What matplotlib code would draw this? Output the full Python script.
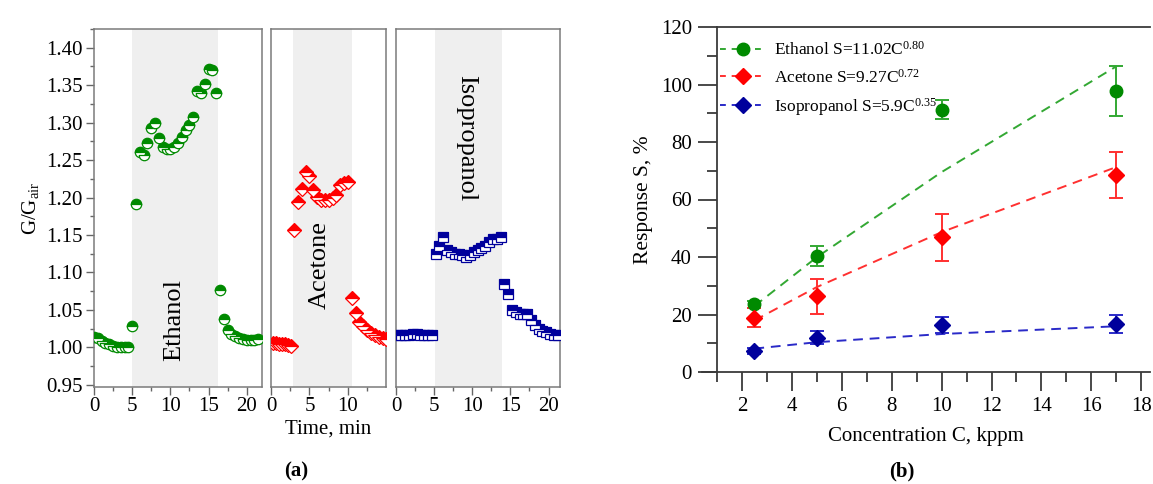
import numpy as np
import matplotlib
matplotlib.use("Agg")
import matplotlib.pyplot as plt
from matplotlib.lines import Line2D
from matplotlib.ticker import MultipleLocator

plt.rcParams['font.family'] = ['Liberation Serif', 'DejaVu Serif']
plt.rcParams['mathtext.fontset'] = 'custom'
plt.rcParams['mathtext.rm'] = 'Liberation Serif'
plt.rcParams['mathtext.it'] = 'Liberation Serif:italic'

# ---- (a) transient responses, G/Gair vs time ----
t_eth = [0.0, 0.5, 1.0, 1.5, 2.0, 2.5, 3.0, 3.5, 4.0, 4.5, 5.0, 5.5, 6.0, 6.5, 7.0,
         7.5, 8.0, 8.5, 9.0, 9.5, 10.0, 10.5, 11.0, 11.5, 12.0, 12.5, 13.0, 13.5,
         14.0, 14.5, 15.0, 15.5, 16.0, 16.5, 17.0, 17.5, 18.0, 18.5, 19.0, 19.5,
         20.0, 20.5, 21.0, 21.5]
g_eth = [1.014, 1.012, 1.009, 1.006, 1.004, 1.002, 1.001, 1.000, 1.000, 1.000,
         1.028, 1.191, 1.261, 1.257, 1.273, 1.293, 1.300, 1.280, 1.267, 1.265,
         1.265, 1.268, 1.273, 1.281, 1.290, 1.297, 1.307, 1.342, 1.339, 1.351,
         1.372, 1.370, 1.340, 1.077, 1.038, 1.023, 1.018, 1.015, 1.013, 1.011,
         1.010, 1.010, 1.010, 1.011]

t_ace = [0.2, 0.6, 1.0, 1.4, 1.8, 2.2, 2.6, 3.0, 3.5, 4.0, 4.5, 5.0, 5.5, 6.0,
         6.5, 7.0, 7.5, 8.0, 8.5, 9.0, 9.5, 10.0, 10.5, 11.0, 11.5, 12.0, 12.5,
         13.0, 13.5, 14.0, 14.5, 14.9]
g_ace = [1.006, 1.006, 1.005, 1.004, 1.004, 1.003, 1.002, 1.157, 1.194, 1.212,
         1.234, 1.229, 1.210, 1.201, 1.197, 1.197, 1.197, 1.199, 1.203, 1.217,
         1.219, 1.221, 1.066, 1.046, 1.034, 1.028, 1.023, 1.019, 1.017, 1.014,
         1.012, 1.011]

t_iso = [0.2, 0.7, 1.2, 1.7, 2.2, 2.7, 3.2, 3.7, 4.2, 4.7, 5.2, 5.7, 6.2, 6.7,
         7.2, 7.7, 8.2, 8.7, 9.2, 9.7, 10.2, 10.7, 11.2, 11.7, 12.2, 12.7, 13.2,
         13.7, 14.2, 14.7, 15.2, 15.7, 16.2, 16.7, 17.2, 17.7, 18.2, 18.7, 19.2,
         19.7, 20.2, 20.7, 21.2]
g_iso = [1.016, 1.016, 1.017, 1.017, 1.018, 1.018, 1.017, 1.017, 1.017, 1.017,
         1.125, 1.135, 1.147, 1.130, 1.127, 1.125, 1.125, 1.123, 1.121, 1.123,
         1.127, 1.130, 1.132, 1.135, 1.140, 1.145, 1.145, 1.147, 1.085, 1.071,
         1.050, 1.047, 1.045, 1.045, 1.044, 1.036, 1.030, 1.025, 1.022, 1.020,
         1.018, 1.017, 1.016]

# ---- (b) response vs concentration ----
conc = [2.5, 5, 10, 17]
s_eth = [23.5, 40.3, 91.3, 97.8]
e_eth = [1.2, 3.6, 3.3, 8.6]
s_ace = [18.9, 26.3, 46.8, 68.5]
e_ace = [3.2, 6.0, 8.2, 8.0]
s_iso = [7.4, 12.0, 16.4, 16.7]
e_iso = [1.0, 2.2, 2.9, 3.2]
fit_eth = (11.02, 0.80)
fit_ace = (9.27, 0.72)
fit_iso = (5.9, 0.35)

GREEN, RED, BLUE = '#008a00', '#ff0000', '#00009c'
SHADE = '#efefef'
W, H = 1153, 484

fig = plt.figure(figsize=(W / 100, H / 100), dpi=100)


def px_axes(x0, x1, y0, y1):
    return fig.add_axes([x0 / W, 1 - y1 / H, (x1 - x0) / W, (y1 - y0) / H])


panels = [
    (94, 262, (0, 22), t_eth, g_eth, 'o', GREEN, (5.0, 16.3), 'Ethanol', (10.5, 1.036), 90),
    (271, 386, (0, 14.95), t_ace, g_ace, 'D', RED, (2.8, 10.5), 'Acetone', (6.4, 1.110), 90),
    (396, 560, (0, 21.5), t_iso, g_iso, 's', BLUE, (5.1, 13.9), 'Isopropanol', (9.25, 1.279), 270),
]
ms = {'o': 7.5, 'D': 7, 's': 6.5}

for i, (x0, x1, xl, t, g, mk, col, sh, name, pos, rot) in enumerate(panels):
    ax = px_axes(x0, x1, 29, 387)
    ax.axvspan(sh[0], sh[1], color=SHADE, lw=0, zorder=0)
    ax.plot(t, g, linestyle='none', marker=mk, ms=ms[mk], fillstyle='top',
            color=col, markerfacecoloralt='white', mec=col, mew=0.9, zorder=3)
    ax.set_xlim(*xl)
    ax.set_ylim(0.947, 1.425)
    ax.xaxis.set_major_locator(MultipleLocator(5))
    ax.xaxis.set_minor_locator(MultipleLocator(2.5))
    ax.tick_params(axis='x', which='major', direction='out', length=6, width=1,
                   color='#666666', labelsize=15, pad=1)
    ax.tick_params(axis='x', which='minor', direction='out', length=3, width=1, color='#666666')
    ax.tick_params(top=False, right=False)
    for sp in ax.spines.values():
        sp.set_color('#7a7a7a')
        sp.set_linewidth(1.1)
    if i == 0:
        ax.yaxis.set_major_locator(MultipleLocator(0.05))
        ax.yaxis.set_minor_locator(MultipleLocator(0.025))
        ax.yaxis.set_major_formatter(matplotlib.ticker.FormatStrFormatter('%.2f'))
        ax.tick_params(axis='y', which='major', direction='out', length=6, width=1,
                       color='#666666', labelsize=15, pad=2)
        ax.tick_params(axis='y', which='minor', direction='out', length=3, width=1, color='#666666')
        ax.set_ylabel(r'G/G$_{\rm air}$', fontsize=15, labelpad=4)
    else:
        ax.set_yticks([])
    if i == 1:
        ax.set_xlabel('Time, min', fontsize=15, labelpad=3)
    ax.text(pos[0], pos[1], name, rotation=rot, fontsize=19, ha='center', va='center', zorder=4)

fig.text(296 / W, 1 - 471 / H, '(a)', fontsize=15, fontweight='bold', ha='center', va='center')

# ---- right panel ----
axb = px_axes(702, 1150, 27, 372)
axb.set_xlim(0.4, 18.35)
axb.set_ylim(0, 120)
axb.spines['right'].set_visible(False)
axb.spines['left'].set_position(('data', 1))
axb.spines['top'].set_bounds(1, 18.35)
for sp in axb.spines.values():
    sp.set_color('#3a3a3a')
    sp.set_linewidth(1.3)

series = [
    (s_eth, e_eth, fit_eth, 'o', GREEN, '#33a833', 9, 'Ethanol S=11.02C$^{0.80}$'),
    (s_ace, e_ace, fit_ace, 'D', RED, '#ff3030', 8.5, 'Acetone S=9.27C$^{0.72}$'),
    (s_iso, e_iso, fit_iso, 'D', BLUE, '#2a2ac8', 8.5, 'Isopropanol S=5.9C$^{0.35}$'),
]
handles = []
for s, e, (a, b), mk, col, lcol, size, lab in series:
    c = np.array(conc, dtype=float)
    axb.plot(c, a * c ** b, linestyle=(0, (5, 3.5)), color=lcol, lw=1.4, zorder=2)
    axb.errorbar(conc, s, yerr=e, fmt=mk, ms=size, color=col, ecolor=lcol, elinewidth=1.4,
                 capsize=5, capthick=1.4, mec=col, zorder=3)
    handles.append(Line2D([], [], linestyle=(0, (3, 3)), color=lcol, lw=1.4,
                          marker=mk, ms=size, mfc=col, mec=col, label=lab))

leg = axb.legend(handles=handles, loc='upper left', bbox_to_anchor=(0.018, 0.99),
                 frameon=False, fontsize=12.5, handlelength=2.6, handletextpad=0.5,
                 labelspacing=0.55, borderaxespad=0.2)

axb.xaxis.set_major_locator(MultipleLocator(2))
axb.xaxis.set_minor_locator(MultipleLocator(1))
axb.yaxis.set_major_locator(MultipleLocator(20))
axb.yaxis.set_minor_locator(MultipleLocator(10))
axb.tick_params(which='major', direction='out', length=14, width=1.3, color='#3a3a3a',
                labelsize=15, pad=4)
axb.tick_params(which='minor', direction='out', length=7, width=1.3, color='#3a3a3a')
axb.tick_params(top=False, right=False)
axb.set_xticks([2, 4, 6, 8, 10, 12, 14, 16, 18])
axb.set_xlabel('Concentration C, kppm', fontsize=15, labelpad=8)
axb.set_ylabel('Response S, %', fontsize=15.5, labelpad=6)

fig.text(902 / W, 1 - 471 / H, '(b)', fontsize=15, fontweight='bold', ha='center', va='center')

fig.savefig('out.png', dpi=100)
